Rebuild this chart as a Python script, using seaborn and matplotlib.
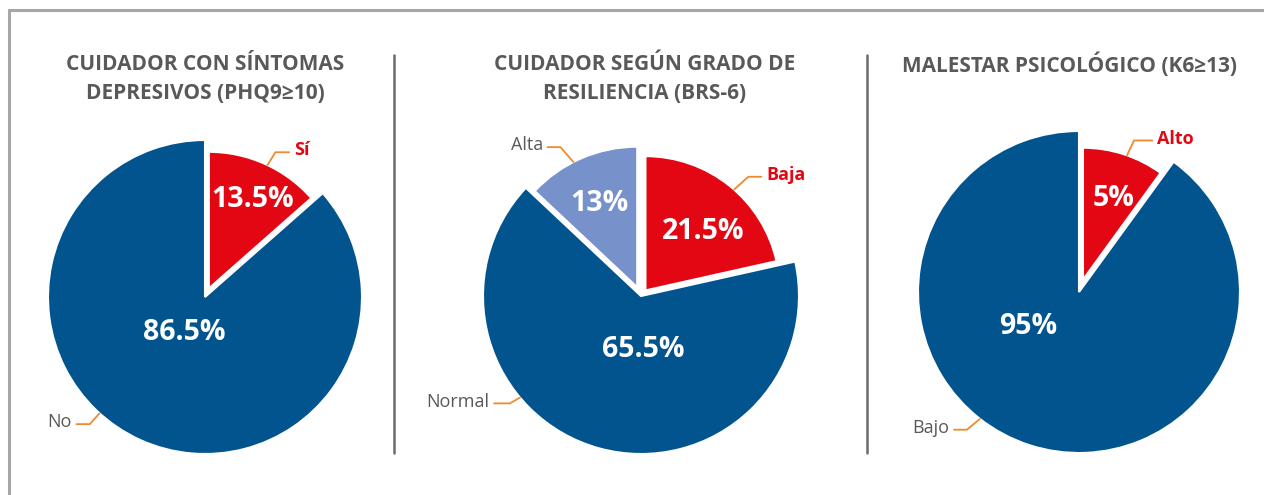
import numpy as np
import matplotlib.pyplot as plt
import seaborn as sns
from matplotlib.lines import Line2D

sns.set_theme(style='white')
plt.rcParams['font.family'] = ['Open Sans', 'DejaVu Sans']

# Data
titles = ['CUIDADOR CON SÍNTOMAS\nDEPRESIVOS (PHQ9≥10)',
          'CUIDADOR SEGÚN GRADO DE\nRESILIENCIA (BRS-6)',
          'MALESTAR PSICOLÓGICO (K6≥13)']

depresion_cat = ['Sí', 'No']
depresion_pct = [13.5, 86.5]

resiliencia_cat = ['Baja', 'Normal', 'Alta']
resiliencia_pct = [21.5, 65.5, 13]

malestar_cat = ['Alto', 'Bajo']
malestar_pct = [5, 95]
malestar_drawn = [10, 90]  # slice sizes as drawn in the original graphic

# Styles
BLUE, RED, LIGHT = '#02548f', '#e30613', '#7791ca'
ORANGE, GRAY = '#f08a2c', '#595959'

W, H = 1264, 495
fig = plt.figure(figsize=(W / 100, H / 100), dpi=100)

charts = [
    dict(sizes=depresion_pct, pct=depresion_pct, cat=depresion_cat,
         colors=[RED, BLUE], explode=[0.06, 0], radius=[0.87, 1.0],
         center=(205, 297), r=157, title_xy=(205, 79),
         inner=[(0.69, 64), (0.26, 240)],
         outer=[(64.6, (19, 10.5), 58, 'left', True),
                (227.8, (-20, -6.5), 48, 'right', False)]),
    dict(sizes=resiliencia_pct, pct=resiliencia_pct, cat=resiliencia_cat,
         colors=[RED, BLUE, LIGHT], explode=[0.045, 0, 0.06], radius=[0.85, 1.0, 0.89],
         center=(641, 296), r=158, title_xy=(645, 79),
         inner=[(0.57, 46), (0.34, 272), (0.64, 114)],
         outer=[(48.7, (23, 10.5), 42, 'left', True),
                (220, (-22, -2.9), 30, 'right', False),
                (117, (-22, 12), 131, 'right', False)]),
    dict(sizes=malestar_drawn, pct=malestar_pct, cat=malestar_cat,
         colors=[RED, BLUE], explode=[0.08, 0], radius=[0.82, 1.0],
         center=(1079, 292), r=161, title_xy=(1069, 65),
         inner=[(0.62, 70), (0.38, 214)],
         outer=[(70.5, (21.5, 12), 65, 'left', True),
                (232, (-22, -6.5), 40, 'right', False)]),
]

PAD = 1.3
for i, c in enumerate(charts):
    cx, cy = c['center']
    r = c['r']
    ax = fig.add_axes([(cx - PAD * r) / W, (H - cy - PAD * r) / H,
                       2 * PAD * r / W, 2 * PAD * r / H])
    wedges, _ = ax.pie(c['sizes'], colors=c['colors'], startangle=90,
                       counterclock=False, explode=c['explode'],
                       wedgeprops=dict(edgecolor='white', linewidth=1.5))
    for w, rf in zip(wedges, c['radius']):
        w.set_radius(rf)
    ax.set_xlim(-PAD, PAD)
    ax.set_ylim(-PAD, PAD)
    ax.set_aspect('equal')
    ax.axis('off')

    # percentages inside the slices
    for p, (dist, ang) in zip(c['pct'], c['inner']):
        a = np.radians(ang)
        ax.text(dist * np.cos(a), dist * np.sin(a), f'{p:g}%', color='white',
                fontsize=20.5, fontweight='bold', ha='center', va='center')

    # category labels with leader lines
    for w, name, (ang, off, angB, ha, bold) in zip(wedges, c['cat'], c['outer']):
        a = np.radians(ang)
        wx, wy = w.center
        pt = (wx + w.r * np.cos(a), wy + w.r * np.sin(a))
        ax.annotate(name, xy=pt, xytext=off, textcoords='offset points',
                    ha=ha, va='center', fontsize=13,
                    fontweight='bold' if bold else 'normal',
                    color=RED if bold else GRAY,
                    arrowprops=dict(arrowstyle='-', color=ORANGE, lw=1.3,
                                    shrinkA=1, shrinkB=0,
                                    relpos=(0 if ha == 'left' else 1, 0.4),
                                    connectionstyle=f'angle,angleA=0,angleB={angB},rad=0'))

    tx, ty = c['title_xy']
    fig.text(tx / W, 1 - ty / H, titles[i], ha='center', va='center',
             fontsize=15, fontweight='bold', color=GRAY, linespacing=1.45)

# frame and separators
fig.add_artist(Line2D([9 / W, 1], [1 - 10 / H] * 2, transform=fig.transFigure,
                      color='#a6a6a6', lw=2.2))
fig.add_artist(Line2D([9 / W] * 2, [0, 1 - 10 / H], transform=fig.transFigure,
                      color='#a6a6a6', lw=2.2))
for sx in [394, 867]:
    fig.add_artist(Line2D([sx / W] * 2, [1 - 55 / H, 1 - 453 / H],
                          transform=fig.transFigure, color='#6b6b6b', lw=1.8))

fig.savefig('out.png', dpi=100)
